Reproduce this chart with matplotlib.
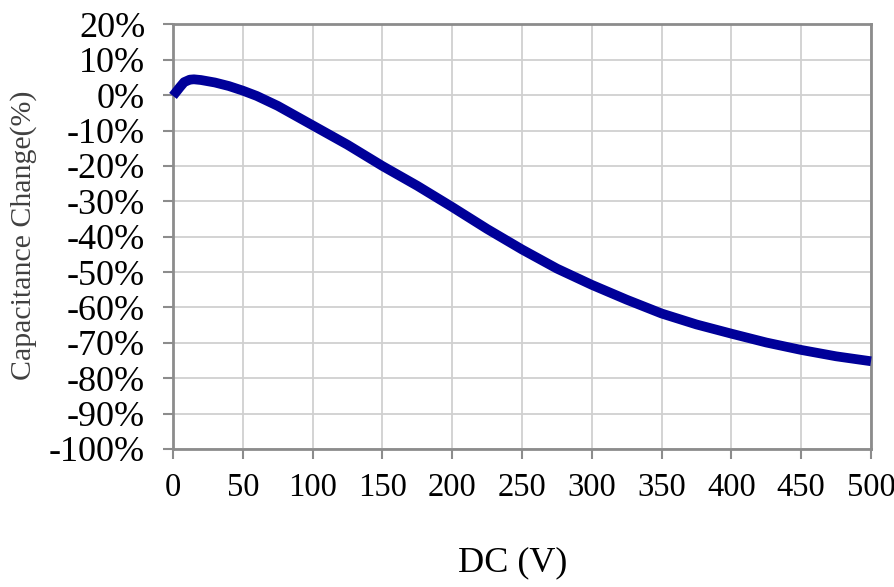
import matplotlib
matplotlib.use("Agg")
import matplotlib.pyplot as plt
from matplotlib.ticker import FuncFormatter

# Data
dc_volts = [0, 2, 5, 8, 12, 15, 20, 30, 40, 50, 60, 75, 100, 125, 150, 175,
            200, 225, 250, 275, 300, 325, 350, 375, 400, 425, 450, 475, 500]
cap_change = [-0.2, 0.8, 2.3, 3.7, 4.4, 4.5, 4.3, 3.6, 2.6, 1.3, -0.2, -3.0,
              -8.5, -14.0, -20.0, -25.6, -31.6, -37.8, -43.6, -49.0, -53.6,
              -57.8, -61.7, -64.8, -67.4, -69.9, -72.0, -73.8, -75.2]

x_ticks = [0, 50, 100, 150, 200, 250, 300, 350, 400, 450, 500]
y_ticks = [20, 10, 0, -10, -20, -30, -40, -50, -60, -70, -80, -90, -100]

plt.rcParams['font.family'] = ['Liberation Serif', 'DejaVu Serif']

fig = plt.figure(figsize=(8.94, 5.87), dpi=100)
ax = fig.add_axes([0.1935, 0.2351, 0.9743 - 0.1935, 0.9583 - 0.2351])

ax.plot(dc_volts, cap_change, color='#000099', linewidth=7,
        solid_capstyle='butt', solid_joinstyle='round', zorder=3,
        clip_on=False)

ax.set_xlim(0, 500)
ax.set_ylim(-100, 20)
ax.set_xticks(x_ticks)
ax.set_yticks(y_ticks)
ax.yaxis.set_major_formatter(FuncFormatter(lambda v, p: f"{int(round(v))}%"))

ax.grid(True, color='#d0d0d0', linewidth=1.3, zorder=0)
ax.set_axisbelow(True)

for s in ax.spines.values():
    s.set_color('#8c8c8c')
    s.set_linewidth(2)

ax.tick_params(axis='both', direction='out', color='#8c8c8c', width=1.5,
               length=7, labelcolor='black')
ax.tick_params(axis='y', pad=13, labelsize=26)
ax.tick_params(axis='x', pad=10, labelsize=23.5)

fig.text(513 / 894, 1 - 563 / 587, 'DC (V)', fontsize=26,
         ha='center', va='center')
fig.text(24 / 894, 1 - 235 / 587, 'Capacitance Change(%)', rotation=90,
         fontsize=21.5, color='#404040', ha='center', va='center')

fig.savefig('out.png', dpi=100)
